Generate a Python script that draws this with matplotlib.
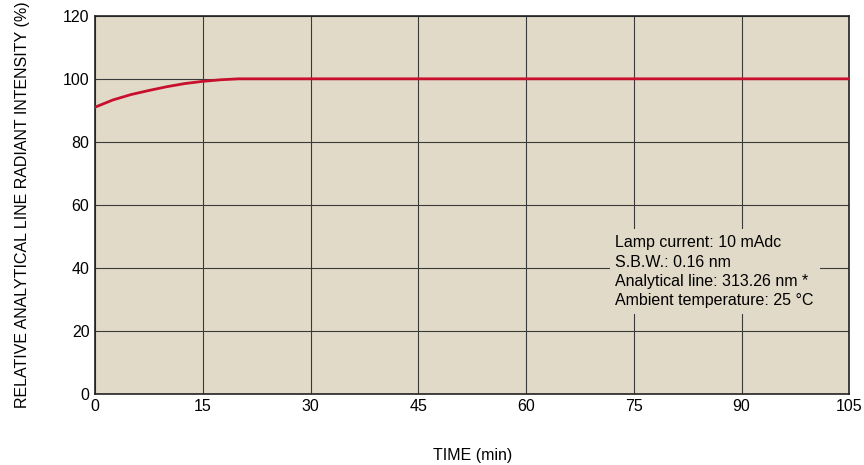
import matplotlib
matplotlib.use("Agg")
import matplotlib.pyplot as plt

plt.rcParams['font.family'] = ['Liberation Sans', 'DejaVu Sans']

time_min = [0, 2.5, 5, 7.5, 10, 12.5, 15, 17.5, 20, 105]
intensity = [91, 93.3, 95, 96.3, 97.5, 98.5, 99.2, 99.7, 100, 100]
x_ticks = [0, 15, 30, 45, 60, 75, 90, 105]
y_ticks = [0, 20, 40, 60, 80, 100, 120]
note_lines = ["Lamp current: 10 mAdc", "S.B.W.: 0.16 nm",
              "Analytical line: 313.26 nm *", "Ambient temperature: 25 \u00b0C"]

bg = '#e2dac8'
fs = 11.5
fig = plt.figure(figsize=(8.64, 4.65), dpi=100)
ax = fig.add_axes([0.110, 0.153, 0.873, 0.813])
ax.set_facecolor(bg)
ax.plot(time_min, intensity, color='#c8102e', lw=2.0, zorder=3)
ax.set_xlim(0, 105)
ax.set_ylim(0, 120)
ax.set_xticks(x_ticks)
ax.set_yticks(y_ticks)
ax.grid(True, color='#3a3a3a', lw=0.8)
ax.set_axisbelow(True)
ax.tick_params(length=0, labelsize=fs, pad=4)
for s in ax.spines.values():
    s.set_color('#222222')
    s.set_linewidth(1.2)
ax.set_xlabel('TIME (min)', fontsize=fs, labelpad=24)
ax.set_ylabel('RELATIVE ANALYTICAL LINE RADIANT INTENSITY (%)', fontsize=fs, labelpad=24)
ax.text(0.690, 0.420, "\n".join(note_lines), transform=ax.transAxes,
        fontsize=fs, va='top', ha='left', linespacing=1.37, zorder=4,
        bbox=dict(facecolor=bg, edgecolor='none', pad=4))
fig.savefig('out.png', dpi=100)
